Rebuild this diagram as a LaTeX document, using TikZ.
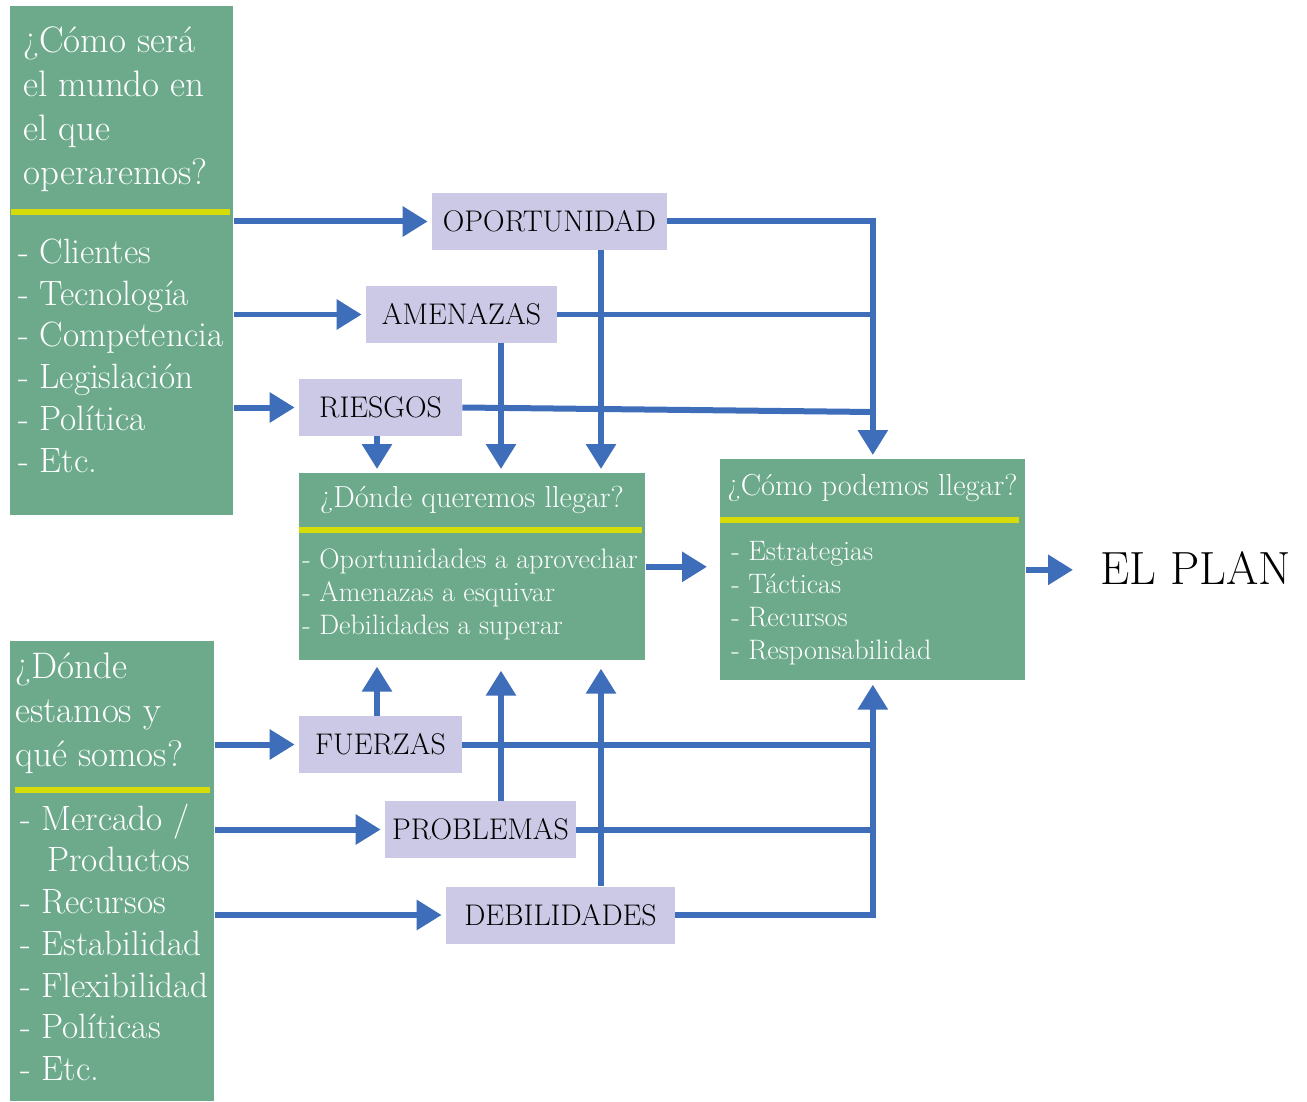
\documentclass[tikz,border=0pt]{standalone}
\usepackage{fontspec}
\usetikzlibrary{arrows.meta}

\definecolor{boxgreen}{RGB}{109,170,140}
\definecolor{tagpurple}{RGB}{204,201,230}
\definecolor{linkblue}{RGB}{62,109,185}
\definecolor{rulelime}{RGB}{214,219,10}

\tikzset{
    greenbox/.style={fill=boxgreen, inner sep=0pt, anchor=north west},
    tagbox/.style={fill=tagpurple, inner sep=0pt, minimum height=1.14cm, font=\fontsize{17}{20}\selectfont},
    titletxt/.style={text=white, inner sep=0pt, anchor=base west, font=\fontsize{21}{25}\selectfont},
    itemtxt/.style={text=white, inner sep=0pt, anchor=base west, font=\fontsize{20}{24}\selectfont},
    headtxt/.style={text=white, inner sep=0pt, anchor=base, font=\fontsize{17.3}{20}\selectfont},
    smalltxt/.style={text=white, inner sep=0pt, anchor=base west, font=\fontsize{16}{19}\selectfont},
    wire/.style={draw=linkblue, line width=0.12cm},
    link/.style={wire, -{Triangle[width=0.58cm, length=0.5cm]}, shorten >=0.08cm},
    limerule/.style={draw=rulelime, line width=0.12cm},
}

\begin{document}
\begin{tikzpicture}[x=0.02cm, y=-0.02cm]
    \useasboundingbox (0,0) rectangle (1307,1101);

    % green boxes
    \node[greenbox, minimum width=4.46cm, minimum height=10.18cm] (world) at (10,6)    {};
    \node[greenbox, minimum width=4.08cm, minimum height=9.2cm]   (here)  at (10,641)  {};
    \node[greenbox, minimum width=6.92cm, minimum height=3.74cm]  (want)  at (299,473) {};
    \node[greenbox, minimum width=6.1cm,  minimum height=4.42cm]  (how)   at (720,459) {};

    \draw[limerule] (11,212)  -- (230,212);
    \draw[limerule] (15,790)  -- (210,790);
    \draw[limerule] (299,530) -- (642,530);
    \draw[limerule] (720,520) -- (1019,520);

    % texts in the boxes
    \foreach \t [count=\i] in {¿Cómo será, el mundo en, el que, operaremos?}
        \node[titletxt] (worldq\i) at (23,9+44*\i) {\t};
    \foreach \t [count=\i] in {- Clientes, - Tecnología, - Competencia, - Legislación, - Política, - Etc.}
        \node[itemtxt] (worldi\i) at (18,221.5+41.8*\i) {\t};

    \foreach \t [count=\i] in {¿Dónde, estamos y, qué somos?}
        \node[titletxt] (hereq\i) at (15,634+44*\i) {\t};
    \foreach \t [count=\i] in {- Mercado /, \hspace{0.54cm}Productos, - Recursos, - Estabilidad, - Flexibilidad, - Políticas, - Etc.}
        \node[itemtxt] (herei\i) at (20,788.5+41.7*\i) {\t};

    \node[headtxt] (wantq) at (472,507) {¿Dónde queremos llegar?};
    \foreach \t [count=\i] in {- Oportunidades a aprovechar, - Amenazas a esquivar, - Debilidades a superar}
        \node[smalltxt] (wanti\i) at (302,535+33*\i) {\t};

    \node[headtxt] (howq) at (872.5,495) {¿Cómo podemos llegar?};
    \foreach \t [count=\i] in {- Estrategias, - Tácticas, - Recursos, - Responsabilidad}
        \node[smalltxt] (howi\i) at (731,526.7+33.3*\i) {\t};

    % purple tags
    \node[tagbox, minimum width=4.7cm]  (oport) at (549.5,221.5) {OPORTUNIDAD};
    \node[tagbox, minimum width=3.82cm] (amen)  at (461.5,314.5) {AMENAZAS};
    \node[tagbox, minimum width=3.26cm] (ries)  at (380.5,407.5) {RIESGOS};
    \node[tagbox, minimum width=3.26cm] (force) at (380.5,744.5) {FUERZAS};
    \node[tagbox, minimum width=3.82cm] (prob)  at (480.5,829.5) {PROBLEMAS};
    \node[tagbox, minimum width=4.58cm] (weak)  at (560.5,915)   {DEBILIDADES};

    \node[inner sep=0pt, anchor=base west, font=\fontsize{26.5}{31}\selectfont] (plan) at (1100,584) {EL PLAN};

    \coordinate (c1) at (377,0);
    \coordinate (c2) at (501,0);
    \coordinate (c3) at (601,0);
    \coordinate (c4) at (872.5,0);
    \coordinate (rmeet) at (872.5,412);

    % upper half
    \draw[link] (world.east |- oport.west) -- (oport.west);
    \draw[link] (world.east |- amen.west) -- (amen.west);
    \draw[link] (world.east |- ries.west) -- (ries.west);
    \draw[link] (oport.east) -| (how.north);
    \draw[wire] (amen.east) -- (amen.east -| c4);
    \draw[wire] (ries.east) -- (rmeet);
    \draw[link] (ries.south -| c1) -- (c1 |- want.north);
    \draw[link] (amen.south -| c2) -- (c2 |- want.north);
    \draw[link] (oport.south -| c3) -- (c3 |- want.north);

    \draw[link, shorten >=0.26cm] (want.east) -- (want.east -| how.west);
    \draw[link, shorten >=0.54cm] (how.east) -- (how.east -| plan.west);

    % lower half
    \draw[link] (here.east |- force.west) -- (force.west);
    \draw[link] (here.east |- prob.west) -- (prob.west);
    \draw[link] (here.east |- weak.west) -- (weak.west);
    \draw[link, shorten >=0.12cm] (force.north -| c1) -- (c1 |- want.south);
    \draw[link, shorten >=0.2cm]  (prob.north -| c2) -- (c2 |- want.south);
    \draw[link, shorten >=0.16cm] (weak.north -| c3) -- (c3 |- want.south);
    \draw[wire] (force.east) -- (force.east -| c4);
    \draw[wire] (prob.east) -- (prob.east -| c4);
    \draw[link] (weak.east) -| (how.south);
\end{tikzpicture}
\end{document}
